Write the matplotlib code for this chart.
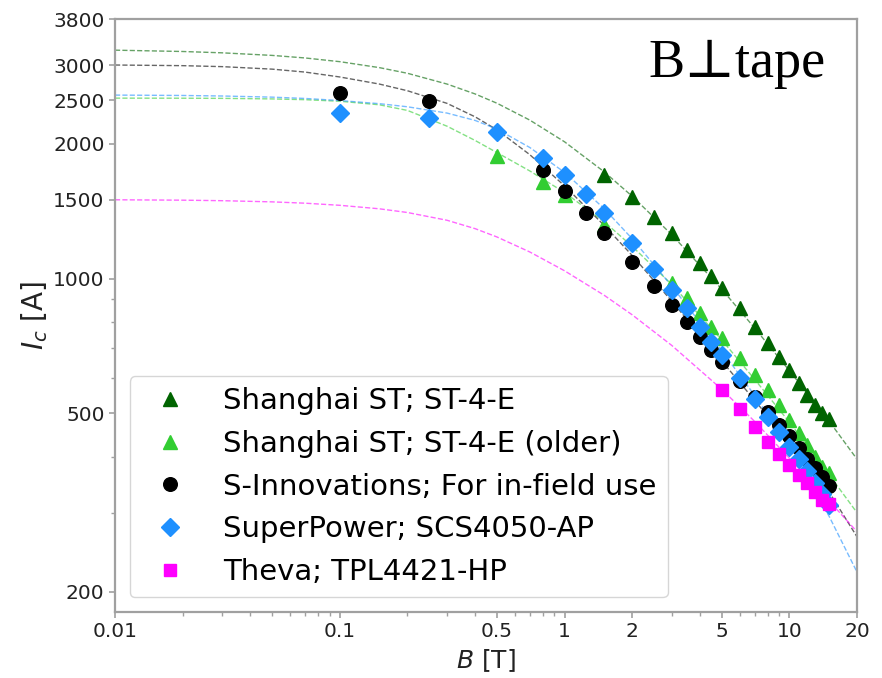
import numpy as np
import matplotlib
matplotlib.use("Agg")
import matplotlib.pyplot as plt
from matplotlib.ticker import FixedLocator, NullFormatter

# ── measured points (B in T, Ic in A) ──
B_st = [1.5, 2, 2.5, 3, 3.5, 4, 4.5, 5, 6, 7, 8, 9, 10, 11, 12, 13, 14, 15]
Ic_st = [1704, 1522, 1373, 1265, 1159, 1084, 1014, 954, 860, 780, 719, 669, 626, 585, 550, 523, 502, 486]

B_st_old = [0.5, 0.8, 1, 1.5, 3, 3.5, 4, 4.5, 5, 6, 7, 8, 9, 10, 11, 12, 13, 14, 15]
Ic_st_old = [1880, 1644, 1538, 1320, 978, 906, 838, 780, 738, 664, 610, 565, 523, 484, 453, 426, 400, 380, 368]

B_si = [0.1, 0.25, 0.8, 1, 1.25, 1.5, 2, 2.5, 3, 3.5, 4, 4.5, 5, 6, 7, 8, 9, 10, 11, 12, 13, 14, 15]
Ic_si = [2598, 2494, 1749, 1570, 1402, 1265, 1090, 963, 874, 801, 741, 693, 652, 592, 545, 504, 472, 444, 419, 396, 378, 360, 345]

B_sp = [0.1, 0.25, 0.5, 0.8, 1, 1.25, 1.5, 2, 2.5, 3, 3.5, 4, 4.5, 5, 6, 7, 8, 9, 10, 11, 12, 13, 14, 15]
Ic_sp = [2344, 2285, 2126, 1860, 1704, 1546, 1402, 1202, 1051, 944, 860, 780, 722, 676, 600, 539, 491, 455, 421, 396, 372, 350, 330, 312]

B_th = [5, 6, 7, 8, 9, 10, 11, 12, 13, 14, 15]
Ic_th = [565, 512, 467, 432, 406, 384, 365, 350, 334, 321, 313]

# ── fit curves ──
B_fit = [0.01, 0.02, 0.03, 0.05, 0.07, 0.1, 0.15, 0.2, 0.3, 0.4, 0.5, 0.7, 1, 1.5, 2, 3, 5, 7, 10, 15, 20]
fit_st = [3238, 3216, 3194, 3152, 3111, 3052, 2960, 2875, 2720, 2585, 2465, 2260, 2021, 1732, 1527, 1253, 947, 776, 623, 481, 395]
fit_st_old = [2530, 2529, 2527, 2520, 2510, 2490, 2445, 2375, 2190, 2035, 1912, 1740, 1557, 1340, 1180, 970, 730, 596, 478, 365, 300]
fit_si = [3000, 2990, 2975, 2937, 2893, 2821, 2720, 2628, 2463, 2298, 2150, 1892, 1611, 1315, 1126, 890, 655, 535, 431, 334, 265]
fit_sp = [2570, 2565, 2558, 2543, 2526, 2499, 2459, 2420, 2343, 2256, 2158, 1963, 1727, 1433, 1227, 962, 690, 549, 421, 295, 221]
fit_th = [1500, 1497, 1493, 1484, 1474, 1458, 1432, 1405, 1350, 1293, 1239, 1147, 1041, 918, 830, 709, 566, 480, 397, 319, 272]

labels = ["Shanghai ST; ST-4-E", "Shanghai ST; ST-4-E (older)",
          "S-Innovations; For in-field use", "SuperPower; SCS4050-AP",
          "Theva; TPL4421-HP"]
colors = ["darkgreen", "limegreen", "black", "dodgerblue", "magenta"]
markers = ["^", "^", "o", "D", "s"]
msizes = [10, 10, 9.8, 8.8, 9.3]

xticks = [0.01, 0.1, 0.5, 1, 2, 5, 10, 20]
yticks = [200, 500, 1000, 1500, 2000, 2500, 3000, 3800]

fig = plt.figure(figsize=(8.82, 6.78), dpi=100)
ax = fig.add_axes([0.1304, 0.0973, 0.8413, 0.8746])
ax.set_xscale("log"); ax.set_yscale("log")

data = [(B_st, Ic_st, fit_st), (B_st_old, Ic_st_old, fit_st_old), (B_si, Ic_si, fit_si),
        (B_sp, Ic_sp, fit_sp), (B_th, Ic_th, fit_th)]
for (b, ic, fit), c in zip(data, colors):
    ax.plot(B_fit, fit, "--", color=c, lw=1.0, alpha=0.6, zorder=1)
for (b, ic, fit), c, m, ms, lbl in zip(data, colors, markers, msizes, labels):
    ax.plot(b, ic, ls="none", marker=m, ms=ms, color=c, mec=c, label=lbl, zorder=3)

ax.set_xlim(0.01, 20); ax.set_ylim(180, 3800)
ax.xaxis.set_major_locator(FixedLocator(xticks))
ax.set_xticklabels([f"{t:g}" for t in xticks])
ax.yaxis.set_major_locator(FixedLocator(yticks))
ax.set_yticklabels([str(t) for t in yticks])
ax.xaxis.set_minor_formatter(NullFormatter()); ax.yaxis.set_minor_formatter(NullFormatter())

for s in ax.spines.values():
    s.set_color("#a0a0a0"); s.set_linewidth(1.6)
ax.tick_params(which="both", colors="#a0a0a0", labelcolor="#222222", labelsize=14.5)
ax.tick_params(which="major", length=4, width=1.2)
ax.tick_params(which="minor", length=3, width=1.0)

ax.set_xlabel("$B$ [T]", fontsize=18, color="#222222")
ax.set_ylabel("$I_c$ [A]", fontsize=20, color="#222222", labelpad=2)

ax.text(0.957, 0.902, "B\u22a5tape", transform=ax.transAxes, ha="right", va="baseline",
        fontsize=39, family=["Liberation Serif", "DejaVu Serif"])

ax.legend(loc="lower left", fontsize=21, labelspacing=0.5, handletextpad=0.8)

fig.savefig("out.png", dpi=100)
